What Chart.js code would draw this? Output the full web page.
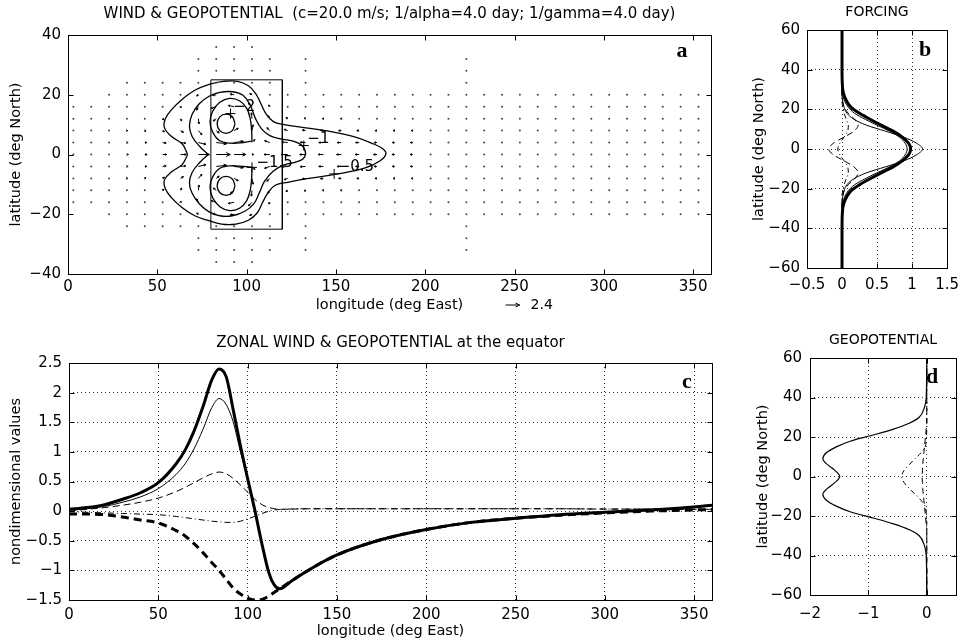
<!DOCTYPE html>
<html>
<head>
<meta charset="utf-8">
<script src="https://cdn.jsdelivr.net/npm/chart.js@4.4.1/dist/chart.umd.min.js"></script>
<style>
html, body { margin: 0; padding: 0; background: #fff; }
#wrap { position: relative; width: 967px; height: 644px; overflow: hidden; }
canvas { position: absolute; }
</style>
</head>
<body>
<div id="wrap">
  <canvas id="mapChart" width="725" height="318" style="left:0;top:0"></canvas>
  <canvas id="forcingChart" width="237" height="320" style="left:730px;top:0"></canvas>
  <canvas id="equatorChart" width="725" height="324" style="left:0;top:320px"></canvas>
  <canvas id="geoChart" width="237" height="324" style="left:730px;top:320px"></canvas>
</div>
<script>
const ink = '#000';
const FONT = "'DejaVu Sans', sans-serif";

// ---- panel a: wind vectors (u, v) on a 10 deg x 4 deg grid ----
const quiverLons = [33, 43, 53, 63, 73, 83, 93, 103, 113, 123, 133, 143, 153, 163, 173, 183, 193];
const quiverLats = [20, 16, 12, 8, 4, 0, -4, -8, -12, -16, -20];
const quiverU = [
  [0, 0, 0, 0.1, -0.3, -0.6, -0.7, -0.4, -0.1, 0, 0, 0, 0, 0, 0, 0, 0],
  [0, 0, 0.1, 0.1, -0.3, -0.9, -1.0, -0.6, -0.2, -0.1, -0.1, 0, 0, 0, 0, 0, 0],
  [0.1, 0.1, 0.2, 0.2, 0.1, -0.5, -0.6, -0.1, -0.3, -0.3, -0.25, -0.2, -0.15, -0.1, -0.1, 0, 0],
  [0.15, 0.2, 0.3, 0.5, 0.6, 0.5, 0.7, 0.2, -0.5, -0.6, -0.55, -0.5, -0.45, -0.4, -0.35, -0.3, -0.25],
  [0.2, 0.35, 0.6, 0.9, 1.3, 1.8, 1.6, 0.5, -0.9, -1.0, -0.9, -0.8, -0.7, -0.6, -0.5, -0.45, -0.4],
  [0.25, 0.4, 0.7, 1.0, 1.9, 2.4, 2.0, 0.3, -1.0, -1.15, -1.0, -0.9, -0.8, -0.7, -0.6, -0.5, -0.45],
  [0.2, 0.35, 0.6, 0.9, 1.3, 1.8, 1.6, 0.5, -0.9, -1.0, -0.9, -0.8, -0.7, -0.6, -0.5, -0.45, -0.4],
  [0.15, 0.2, 0.3, 0.5, 0.6, 0.5, 0.7, 0.2, -0.5, -0.6, -0.55, -0.5, -0.45, -0.4, -0.35, -0.3, -0.25],
  [0.1, 0.1, 0.2, 0.2, 0.1, -0.5, -0.6, -0.1, -0.3, -0.3, -0.25, -0.2, -0.15, -0.1, -0.1, 0, 0],
  [0, 0, 0.1, 0.1, -0.3, -0.9, -1.0, -0.6, -0.2, -0.1, -0.1, 0, 0, 0, 0, 0, 0],
  [0, 0, 0, 0.1, -0.3, -0.6, -0.7, -0.4, -0.1, 0, 0, 0, 0, 0, 0, 0, 0],
];
const quiverV = [
  [0, 0, 0, -0.1, -0.2, -0.1, 0.1, 0.2, 0.1, 0, 0, 0, 0, 0, 0, 0, 0],
  [0, 0, -0.1, -0.2, -0.6, -0.3, 0.2, 0.6, 0.3, 0.1, 0, 0, 0, 0, 0, 0, 0],
  [0, -0.1, -0.2, -0.4, -0.9, -0.4, 0.5, 1.0, 0.5, 0.2, 0.1, 0, 0, 0, 0, 0, 0],
  [0, -0.1, -0.2, -0.3, -0.7, -0.4, 0.4, 1.0, 0.5, 0.2, 0.1, 0.05, 0, 0, 0, 0, 0],
  [0, 0, -0.1, -0.1, -0.3, -0.2, 0.2, 0.5, 0.3, 0.1, 0.05, 0, 0, 0, 0, 0, 0],
  [0, 0, 0, 0, 0, 0, 0, 0, 0, 0, 0, 0, 0, 0, 0, 0, 0],
  [0, 0, 0.1, 0.1, 0.3, 0.2, -0.2, -0.5, -0.3, -0.1, -0.05, 0, 0, 0, 0, 0, 0],
  [0, 0.1, 0.2, 0.3, 0.7, 0.4, -0.4, -1.0, -0.5, -0.2, -0.1, -0.05, 0, 0, 0, 0, 0],
  [0, 0.1, 0.2, 0.4, 0.9, 0.4, -0.5, -1.0, -0.5, -0.2, -0.1, 0, 0, 0, 0, 0, 0],
  [0, 0, 0.1, 0.2, 0.6, 0.3, -0.2, -0.6, -0.3, -0.1, 0, 0, 0, 0, 0, 0, 0],
  [0, 0, 0, 0.1, 0.2, 0.1, -0.1, -0.2, -0.1, 0, 0, 0, 0, 0, 0, 0, 0],
];
const arrowRefValue = 2.4;

// columns of the (near-zero) vector grid and how far north/south they reach
const dotLons = [3, 13, 23, 33, 43, 53, 63, 73, 83, 93, 103, 113, 123, 133, 143, 153, 163, 173,
  183, 193, 203, 213, 223, 233, 243, 253, 263, 273, 283, 293, 303, 313, 323, 333, 343, 353];
const dotLatMax = [16, 16, 20, 24, 24, 24, 24, 32, 36, 36, 36, 32, 20, 32, 20, 20, 20, 20,
  20, 20, 20, 20, 32, 20, 20, 20, 20, 20, 20, 20, 20, 20, 20, 20, 20, 20];

// geopotential contours, [lon, lat]
const contourM05 = [[67, 0], [64, 3.5], [58, 6], [54, 9], [54.5, 12], [58, 15], [64, 18.5], [71, 21.5],
  [79, 23.5], [87, 24.5], [95, 24.5], [101, 23], [105, 20.5], [108, 17], [111, 13.5], [115, 11],
  [121, 10], [132, 9], [146, 7.8], [160, 6], [170, 3.8], [176, 2], [178, 0.3], [175, -2], [166, -4.6],
  [150, -6.6], [135, -8], [123, -9.3], [116, -10.3], [112, -12.8], [109, -16], [106, -19.5],
  [101, -22], [94, -23.3], [86, -23.3], [78, -22], [71, -20.5], [64, -17.8], [58, -14.5],
  [54.5, -11.5], [54, -8.5], [58, -5.8], [64, -3.3], [67, 0]];
const contourM1 = [[78.5, 0], [74, 2.5], [69.5, 6], [68, 9.5], [69.5, 13.5], [73.5, 17], [79, 19.5],
  [85, 20.8], [92, 21], [98, 19.8], [102, 16.5], [105, 12], [108.5, 8.5], [113, 6.3], [119, 5.2],
  [126, 4.5], [131, 3], [133, 0.5], [131.5, -1.5], [127, -2.6], [121, -3.5], [115, -5.5], [110, -9],
  [107, -13], [104, -16.5], [99, -19], [92, -20.5], [85, -20.5], [79, -19.2], [73.5, -16.5],
  [69.5, -13], [68, -9.5], [69.5, -6], [74, -2.5], [78.5, 0]];
const contourM15North = [[103, 4.5], [98, 4], [91, 3.8], [85, 4.6], [81, 7.5], [79.5, 11], [81, 14.5],
  [85, 17.5], [90.5, 18.8], [96, 18], [100, 15.5], [102, 12], [102.8, 8], [103, 4.5]];
const contourM15South = [[103, -4.3], [102.8, -8], [102, -12], [100, -15.5], [96, -18], [90.5, -18.8],
  [85, -17.5], [81, -14.5], [79.5, -11], [81, -7.5], [85, -4.6], [91, -3.8], [98, -4], [103, -4.3]];
const contourM2North = [[93.5, 10.3], [92, 12.6], [88.5, 13.5], [85, 12.6], [83.5, 10.3], [85, 8],
  [88.5, 7.1], [92, 8], [93.5, 10.3]];
const contourM2South = [[93.5, -10.5], [92, -8.2], [88.5, -7.3], [85, -8.2], [83.5, -10.5], [85, -12.8],
  [88.5, -13.7], [92, -12.8], [93.5, -10.5]];
const forcingBox = [[80, 25], [120, 25], [120, -25], [80, -25], [80, 25]];

const contourLabels = ['\u22122', '\u22121', '\u22121.5', '\u22120.5'];
const labelMarkLon = [91, 132, 103, 149];
const labelMarkLat = [13.7, 3, -4.3, -6.5];
const labelTextLon = [92.5, 134, 105.5, 151];
const labelTextLat = [16, 5, -2.8, -4.2];

// ---- panel b: forcing profiles ----
const forcingLat = [60, 40, 30, 27, 24, 21, 18, 15, 12, 9, 6, 3, 0, -3, -6, -9, -12, -15, -18, -21, -24, -27, -30, -40, -60];
const forcingTotal = [0, 0, 0.01, 0.03, 0.07, 0.13, 0.25, 0.4, 0.56, 0.73, 0.86, 0.95, 0.98, 0.95, 0.86, 0.73, 0.56, 0.4, 0.25, 0.13, 0.07, 0.03, 0.01, 0, 0];
const forcingNarrow = [0, 0, 0, 0, 0.01, 0.03, 0.07, 0.17, 0.35, 0.62, 0.88, 1.06, 1.15, 1.06, 0.88, 0.62, 0.35, 0.17, 0.07, 0.03, 0.01, 0, 0, 0, 0];
const forcingMid = [0, 0, 0, 0.01, 0.04, 0.09, 0.18, 0.33, 0.5, 0.68, 0.82, 0.9, 0.93, 0.9, 0.82, 0.68, 0.5, 0.33, 0.18, 0.09, 0.04, 0.01, 0, 0, 0];
const forcingDashed = [0, 0, 0, 0, 0.01, 0.03, 0.09, 0.18, 0.23, 0.17, 0.03, -0.12, -0.19, -0.12, 0.03, 0.17, 0.23, 0.18, 0.09, 0.03, 0.01, 0, 0, 0, 0];
const forcingDashDot = [0, 0, 0, 0, 0, 0.01, 0.03, 0.06, 0.09, 0.08, 0.03, -0.03, -0.06, -0.03, 0.03, 0.08, 0.09, 0.06, 0.03, 0.01, 0, 0, 0, 0, 0];

// ---- panel c: values along the equator ----
const lonEq = [0, 10, 20, 30, 40, 50, 60, 65, 70, 75, 80, 84, 88, 92, 96, 100, 104, 108, 112, 115, 118,
  125, 135, 150, 175, 200, 225, 250, 275, 300, 325, 350, 360];
const uTotal = [0.03, 0.06, 0.11, 0.2, 0.31, 0.48, 0.8, 1.03, 1.35, 1.76, 2.22, 2.4, 2.27, 1.7, 1.1, 0.55, 0.02,
  -0.55, -1.05, -1.25, -1.31, -1.17, -0.98, -0.74, -0.48, -0.31, -0.19, -0.12, -0.06, -0.02, 0.02, 0.07, 0.1];
const uKelvin = [0.02, 0.04, 0.08, 0.15, 0.24, 0.38, 0.62, 0.8, 1.05, 1.38, 1.75, 1.9, 1.8, 1.5, 1.0, 0.55, 0.05,
  -0.55, -1.05, -1.25, -1.31, -1.17, -0.98, -0.74, -0.48, -0.31, -0.19, -0.12, -0.06, -0.02, 0.02, 0.07, 0.1];
const uRossby = [0, 0.03, 0.06, 0.1, 0.15, 0.22, 0.33, 0.4, 0.48, 0.56, 0.63, 0.66, 0.63, 0.55, 0.44, 0.32, 0.2,
  0.11, 0.06, 0.04, 0.03, 0.035, 0.04, 0.04, 0.04, 0.04, 0.04, 0.04, 0.04, 0.035, 0.035, 0.03, 0.03];
const phiRossby = [-0.01, -0.02, -0.03, -0.04, -0.05, -0.06, -0.09, -0.11, -0.13, -0.15, -0.17, -0.18, -0.19, -0.19,
  -0.17, -0.13, -0.09, -0.04, 0, 0.02, 0.03, 0.035, 0.04, 0.04, 0.04, 0.04, 0.04, 0.04, 0.04, 0.035, 0.035, 0.03, 0.03];
const phiTotal = [-0.05, -0.05, -0.06, -0.1, -0.15, -0.2, -0.33, -0.42, -0.55, -0.7, -0.87, -1.0, -1.15, -1.3, -1.4,
  -1.47, -1.5, -1.49, -1.43, -1.37, -1.31, -1.17, -0.98, -0.74, -0.48, -0.31, -0.19, -0.12, -0.07, -0.03, 0, 0.02, 0.03];

// ---- panel d: geopotential profiles ----
const geoLat = [60, 40, 35, 30, 27, 24, 21, 18, 15, 12, 9, 6, 3, 0, -3, -6, -9, -12, -15, -18, -21, -24, -27, -30, -35, -40, -60];
const geoTotal = [0, -0.01, -0.04, -0.13, -0.3, -0.57, -0.92, -1.3, -1.55, -1.72, -1.78, -1.7, -1.57, -1.49,
  -1.57, -1.7, -1.78, -1.72, -1.55, -1.3, -0.92, -0.57, -0.3, -0.13, -0.04, -0.01, 0];
const geoDashDot = [0, 0, 0, 0, 0, 0, -0.005, -0.01, -0.03, -0.1, -0.2, -0.3, -0.39, -0.43,
  -0.39, -0.3, -0.2, -0.1, -0.03, -0.01, -0.005, 0, 0, 0, 0, 0, 0];
const geoDashed = [0, 0, 0, 0, 0, -0.01, -0.02, -0.03, -0.04, -0.05, -0.06, -0.07, -0.075, -0.08,
  -0.075, -0.07, -0.06, -0.05, -0.04, -0.03, -0.02, -0.01, 0, 0, 0, 0, 0];

Chart.defaults.font.family = FONT;
Chart.defaults.color = ink;

const minus = v => String(Math.round(v * 100) / 100).replace('-', '\u2212');

function line(ctx, x0, y0, x1, y1) {
  ctx.beginPath();
  ctx.moveTo(x0, y0);
  ctx.lineTo(x1, y1);
  ctx.stroke();
}

// box round the axes, inward ticks on all four sides, panel letter
const framePlugin = {
  id: 'frame',
  afterDatasetsDraw(chart, args, opts) {
    const { ctx, chartArea: a, scales } = chart;
    const L = Math.round(a.left) + 0.5, R = Math.round(a.right) + 0.5;
    const T = Math.round(a.top) + 0.5, B = Math.round(a.bottom) + 0.5;
    ctx.save();
    ctx.strokeStyle = ink;
    ctx.lineWidth = 1;
    ctx.strokeRect(L, T, R - L, B - T);
    const len = 5;
    scales.x.ticks.forEach(t => {
      const px = Math.round(scales.x.getPixelForValue(t.value)) + 0.5;
      line(ctx, px, B, px, B - len);
      line(ctx, px, T, px, T + len);
    });
    scales.y.ticks.forEach(t => {
      const py = Math.round(scales.y.getPixelForValue(t.value)) + 0.5;
      line(ctx, L, py, L + len, py);
      line(ctx, R, py, R - len, py);
    });
    ctx.fillStyle = ink;
    ctx.font = "bold 22px 'Liberation Serif', serif";
    ctx.textAlign = 'center';
    ctx.textBaseline = 'middle';
    ctx.fillText(opts.letter, a.right + opts.dx, a.top + opts.dy);
    ctx.restore();
  },
};

function drawArrow(ctx, x0, y0, dx, dy) {
  const len = Math.hypot(dx, dy);
  const x1 = x0 + dx, y1 = y0 + dy;
  const ang = Math.atan2(dy, dx);
  const head = Math.max(2, len * 0.32);
  ctx.beginPath();
  ctx.moveTo(x0, y0);
  ctx.lineTo(x1, y1);
  ctx.moveTo(x1 - head * Math.cos(ang - 0.45), y1 - head * Math.sin(ang - 0.45));
  ctx.lineTo(x1, y1);
  ctx.lineTo(x1 - head * Math.cos(ang + 0.45), y1 - head * Math.sin(ang + 0.45));
  ctx.stroke();
}

const pxPerUnit = 14 / arrowRefValue;

const quiverPlugin = {
  id: 'quiver',
  afterDatasetsDraw(chart) {
    const { ctx, chartArea: a, scales: { x, y } } = chart;
    ctx.save();
    ctx.strokeStyle = ink;
    ctx.lineWidth = 1;
    quiverLats.forEach((lat, i) => quiverLons.forEach((lon, j) => {
      const u = quiverU[i][j], v = quiverV[i][j];
      if (Math.hypot(u, v) < 0.15) return;
      drawArrow(ctx, x.getPixelForValue(lon), y.getPixelForValue(lat), u * pxPerUnit, -v * pxPerUnit);
    }));
    // contour labels
    ctx.fillStyle = ink;
    ctx.font = '15px ' + FONT;
    ctx.textBaseline = 'middle';
    contourLabels.forEach((txt, i) => {
      ctx.fillText(txt, x.getPixelForValue(labelTextLon[i]), y.getPixelForValue(labelTextLat[i]));
    });
    // reference arrow under the axis
    const rx = x.getPixelForValue(245), ry = a.bottom + 31;
    drawArrow(ctx, rx, ry, arrowRefValue * pxPerUnit, 0);
    ctx.font = '14px ' + FONT;
    ctx.fillText(String(arrowRefValue), rx + 25, ry);
    ctx.restore();
  },
};

function quiverDots() {
  const pts = [];
  dotLons.forEach((lon, k) => {
    for (let lat = -36; lat <= 36; lat += 4) {
      if (Math.abs(lat) > dotLatMax[k]) continue;
      const i = quiverLats.indexOf(lat), j = quiverLons.indexOf(lon);
      if (i >= 0 && j >= 0 && Math.hypot(quiverU[i][j], quiverV[i][j]) >= 0.15) continue;
      pts.push({ x: lon, y: lat });
    }
  });
  return pts;
}

const toXY = pairs => pairs.map(([x, y]) => ({ x, y }));
const zipY = (vals, lats) => vals.map((v, i) => ({ x: v, y: lats[i] }));
const zipX = (lons, vals) => vals.map((v, i) => ({ x: lons[i], y: v }));

function contourSet(pairs) {
  return { data: toXY(pairs), showLine: true, borderColor: ink, borderWidth: 1.3, pointRadius: 0, tension: 0.4 };
}

function curve(data, width, dash) {
  return {
    data, showLine: true, borderColor: ink, borderWidth: width, borderDash: dash || [],
    pointRadius: 0, cubicInterpolationMode: 'monotone',
  };
}

function titleOpts(text, size, top, bottom) {
  return {
    display: true, text, fullSize: false, color: ink,
    font: { family: FONT, size, weight: 'normal' },
    padding: { top, bottom },
  };
}

function axis({ min, max, step, size, horizontal, title, titlePad, tickPad, grid }) {
  return {
    type: 'linear', min, max,
    ticks: { stepSize: step, includeBounds: false, padding: tickPad, color: ink,
      maxRotation: 0, minRotation: 0, autoSkip: false,
      font: { family: FONT, size: 15 }, callback: minus },
    grid: grid
      ? { display: true, drawTicks: false, color: '#333', lineWidth: 1 }
      : { display: false, drawTicks: false },
    border: { display: false, dash: [1, 3] },
    title: title
      ? { display: true, text: title, color: ink, font: { family: FONT, size: 14.5 },
          padding: horizontal ? { top: 0, bottom: titlePad } : { top: titlePad, bottom: 0 } }
      : { display: false },
    afterFit(scale) {
      if (horizontal) scale.height = size; else scale.width = size;
    },
  };
}

const baseOpts = {
  responsive: false,
  animation: false,
  events: [],
};

// ---- panel a ----
new Chart(document.getElementById('mapChart'), {
  type: 'scatter',
  data: {
    datasets: [
      { data: quiverDots(), pointRadius: 1, pointBorderWidth: 0, backgroundColor: '#444' },
      contourSet(contourM05),
      contourSet(contourM1),
      contourSet(contourM15North),
      contourSet(contourM15South),
      contourSet(contourM2North),
      contourSet(contourM2South),
      { data: toXY(forcingBox), showLine: true, borderColor: ink, borderWidth: 1, pointRadius: 0, tension: 0 },
      { data: labelMarkLon.map((lon, i) => ({ x: lon, y: labelMarkLat[i] })), pointStyle: 'cross',
        pointRadius: 5, borderColor: ink, borderWidth: 1 },
    ],
  },
  options: {
    ...baseOpts,
    layout: { padding: { right: 14 } },
    plugins: {
      legend: { display: false }, tooltip: { enabled: false },
      title: titleOpts('WIND & GEOPOTENTIAL  (c=20.0 m/s; 1/alpha=4.0 day; 1/gamma=4.0 day)', 15, 5, 12),
      frame: { letter: 'a', dx: -29, dy: 16 },
    },
    scales: {
      x: axis({ min: 0, max: 360, step: 50, size: 44, horizontal: true, title: 'longitude (deg East)', titlePad: 4, tickPad: 4 }),
      y: axis({ min: -40, max: 40, step: 20, size: 68, title: 'latitude (deg North)', titlePad: 8, tickPad: 7 }),
    },
  },
  plugins: [quiverPlugin, framePlugin],
});

// ---- panel b ----
new Chart(document.getElementById('forcingChart'), {
  type: 'scatter',
  data: {
    datasets: [
      curve(zipY(forcingDashed, forcingLat), 1, [6, 4]),
      curve(zipY(forcingDashDot, forcingLat), 1, [5, 3, 1, 3]),
      curve(zipY(forcingNarrow, forcingLat), 1),
      curve(zipY(forcingMid, forcingLat), 1),
      curve(zipY(forcingTotal, forcingLat), 3),
    ],
  },
  options: {
    ...baseOpts,
    indexAxis: 'y',
    layout: { padding: { right: 12 } },
    plugins: {
      legend: { display: false }, tooltip: { enabled: false },
      title: titleOpts('FORCING', 14, 3.6, 9.6),
      frame: { letter: 'b', dx: -22, dy: 20 },
    },
    scales: {
      x: axis({ min: -0.5, max: 1.5, step: 0.5, size: 52, horizontal: true, tickPad: 8, grid: true }),
      y: axis({ min: -60, max: 60, step: 20, size: 77, title: 'latitude (deg North)', titlePad: 21, tickPad: 7, grid: true }),
    },
  },
  plugins: [framePlugin],
});

// ---- panel c ----
new Chart(document.getElementById('equatorChart'), {
  type: 'scatter',
  data: {
    datasets: [
      curve(zipX(lonEq, phiRossby), 1, [6, 3, 1, 3]),
      curve(zipX(lonEq, uRossby), 1, [7, 4]),
      curve(zipX(lonEq, uKelvin), 1),
      curve(zipX(lonEq, phiTotal), 3, [8, 5]),
      curve(zipX(lonEq, uTotal), 3),
    ],
  },
  options: {
    ...baseOpts,
    layout: { padding: { right: 13 } },
    plugins: {
      legend: { display: false }, tooltip: { enabled: false },
      title: titleOpts('ZONAL WIND & GEOPOTENTIAL at the equator', 15, 14, 11),
      frame: { letter: 'c', dx: -25, dy: 19 },
    },
    scales: {
      x: axis({ min: 0, max: 360, step: 50, size: 44, horizontal: true, title: 'longitude (deg East)', titlePad: 4, tickPad: 6, grid: true }),
      y: axis({ min: -1.5, max: 2.5, step: 0.5, size: 69, title: 'nondimensional values', titlePad: 8, tickPad: 7, grid: true }),
    },
  },
  plugins: [framePlugin],
});

// ---- panel d ----
new Chart(document.getElementById('geoChart'), {
  type: 'scatter',
  data: {
    datasets: [
      curve(zipY(geoDashed, geoLat), 1, [6, 4]),
      curve(zipY(geoDashDot, geoLat), 1, [5, 3, 1, 3]),
      curve(zipY(geoTotal, geoLat), 1.2),
    ],
  },
  options: {
    ...baseOpts,
    indexAxis: 'y',
    layout: { padding: { right: 11 } },
    plugins: {
      legend: { display: false }, tooltip: { enabled: false },
      title: titleOpts('GEOPOTENTIAL', 14, 11.6, 9.6),
      frame: { letter: 'd', dx: -24, dy: 19 },
    },
    scales: {
      x: axis({ min: -2, max: 0.5, step: 1, size: 49, horizontal: true, tickPad: 10, grid: true }),
      y: axis({ min: -60, max: 60, step: 20, size: 80, title: 'latitude (deg North)', titlePad: 25, tickPad: 8, grid: true }),
    },
  },
  plugins: [framePlugin],
});
</script>
</body>
</html>
